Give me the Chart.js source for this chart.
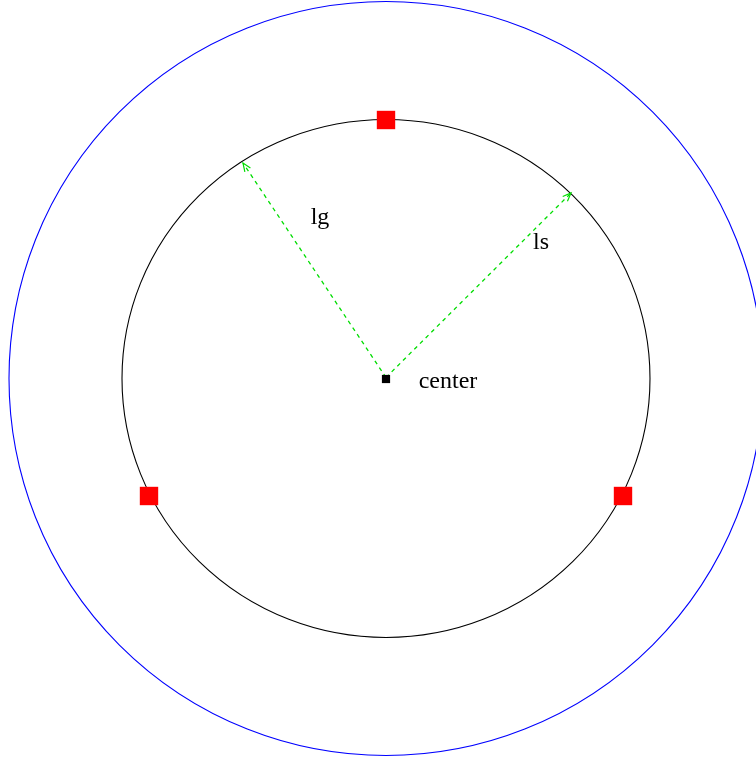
<!DOCTYPE html>
<html>
<head>
<meta charset="utf-8">
<script src="https://cdn.jsdelivr.net/npm/chart.js@4/dist/chart.umd.min.js"></script>
<style>
  body { margin: 0; background: #fff; }
  canvas { display: block; }
</style>
</head>
<body>
<canvas id="diagram" width="756" height="762"></canvas>
<script>
// Diagram coordinates: origin at the circle centre, y pointing up
const circleRadiiX = [377, 264];           // outer (blue), inner (black)
const circleRadiiY = [377, 259];
const circleColors = ["#0000ff", "#000000"];
const markerPoints = [{ x: 0, y: 258.5 }, { x: -237, y: -117.5 }, { x: 237, y: -117.5 }];
const centerPoint = [{ x: 0, y: -0.5 }];
const lgArrow = [{ x: 0, y: 1 }, { x: -143, y: 215.5 }];
const lsArrow = [{ x: 0, y: 1 }, { x: 185, y: 185.5 }];
const labelTexts = ["lg", "ls", "center"];
const labelPoints = [{ x: -66, y: 160.5 }, { x: 155, y: 135.5 }, { x: 62, y: -3.5 }];

// draws the two circles behind the marks
const circlePlugin = {
  id: "circles",
  beforeDatasetsDraw(chart) {
    const ctx = chart.ctx;
    const xs = chart.scales.x, ys = chart.scales.y;
    const cx = xs.getPixelForValue(0), cy = ys.getPixelForValue(0);
    ctx.save();
    circleRadiiX.forEach((r, i) => {
      const rx = xs.getPixelForValue(r) - cx;
      const ry = cy - ys.getPixelForValue(circleRadiiY[i]);
      ctx.beginPath();
      ctx.ellipse(cx, cy, rx, ry, 0, 0, Math.PI * 2);
      ctx.strokeStyle = circleColors[i];
      ctx.lineWidth = 1.1;
      ctx.stroke();
    });
    ctx.restore();
  }
};

// arrowheads at the end of the dashed lines, plus the text labels
const arrowPlugin = {
  id: "arrows",
  afterDatasetsDraw(chart) {
    const ctx = chart.ctx;
    ctx.save();
    chart.data.datasets.forEach((ds, i) => {
      if (!ds.arrow) return;
      const pts = chart.getDatasetMeta(i).data;
      const a = pts[pts.length - 2], b = pts[pts.length - 1];
      const ang = Math.atan2(b.y - a.y, b.x - a.x);
      const len = 9, spread = 0.38;
      ctx.beginPath();
      ctx.moveTo(b.x - len * Math.cos(ang - spread), b.y - len * Math.sin(ang - spread));
      ctx.lineTo(b.x, b.y);
      ctx.lineTo(b.x - len * Math.cos(ang + spread), b.y - len * Math.sin(ang + spread));
      ctx.strokeStyle = ds.borderColor;
      ctx.lineWidth = 1.2;
      ctx.setLineDash([]);
      ctx.stroke();
    });
    const xs = chart.scales.x, ys = chart.scales.y;
    ctx.fillStyle = "#000";
    ctx.font = "24px 'Liberation Serif', 'DejaVu Serif', serif";
    ctx.textBaseline = "middle";
    ctx.textAlign = "center";
    labelTexts.forEach((t, i) => {
      ctx.fillText(t, xs.getPixelForValue(labelPoints[i].x), ys.getPixelForValue(labelPoints[i].y));
    });
    ctx.restore();
  }
};

new Chart(document.getElementById("diagram"), {
  type: "scatter",
  data: {
    datasets: [
      {
        label: "center",
        data: centerPoint,
        pointStyle: "rect",
        pointRadius: 5.8,
        pointBorderWidth: 0,
        backgroundColor: "#000000",
        borderColor: "#000000"
      },
      {
        label: "markers",
        data: markerPoints,
        pointStyle: "rect",
        pointRadius: 13,
        pointBorderWidth: 0,
        backgroundColor: "#ff0000",
        borderColor: "#ff0000"
      },
      {
        label: "lg",
        data: lgArrow,
        showLine: true,
        arrow: true,
        borderColor: "#00dd00",
        borderWidth: 1.3,
        borderDash: [4, 4],
        pointRadius: 0
      },
      {
        label: "ls",
        data: lsArrow,
        showLine: true,
        arrow: true,
        borderColor: "#00dd00",
        borderWidth: 1.3,
        borderDash: [4, 4],
        pointRadius: 0
      }
    ]
  },
  options: {
    responsive: false,
    animation: false,
    layout: { padding: 0, autoPadding: false },
    plugins: {
      legend: { display: false },
      tooltip: { enabled: false }
    },
    scales: {
      x: { type: "linear", min: -386, max: 370, display: false },
      y: { type: "linear", min: -383.5, max: 378.5, display: false }
    }
  },
  plugins: [circlePlugin, arrowPlugin]
});
</script>
</body>
</html>
